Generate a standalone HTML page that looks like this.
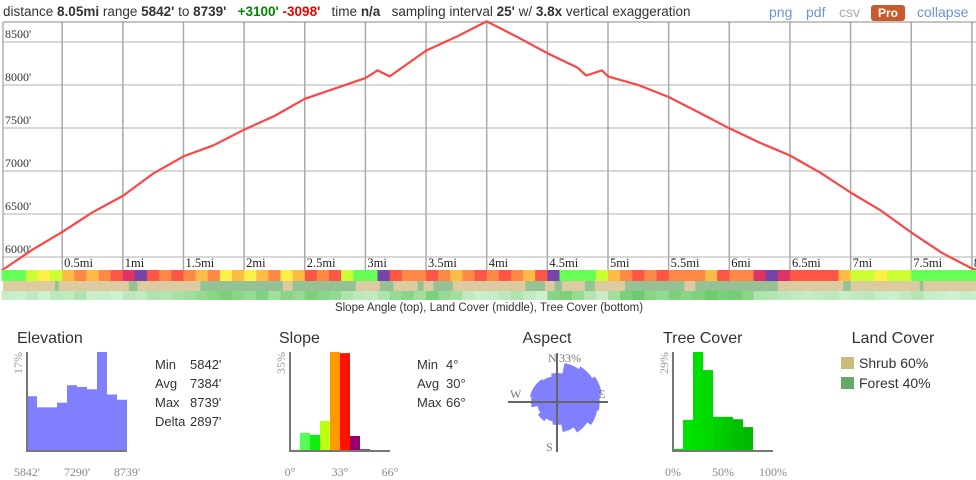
<!DOCTYPE html>
<html><head><meta charset="utf-8">
<style>
body{margin:0;width:976px;height:480px;background:#fff;overflow:hidden;font-family:"Liberation Sans",sans-serif;color:#333}
#hdr{position:absolute;left:3px;top:4px;font-size:13.5px;white-space:nowrap}
#hdr b{font-weight:bold}
.lnk{position:absolute;top:4px;font-size:14px;color:#6b93d6}
</style></head><body>
<div id="hdr">distance <b>8.05mi</b> range <b>5842'</b> to <b>8739'</b> &nbsp;&nbsp;<b style="color:#080">+3100'</b> <b style="color:#e00">-3098'</b> &nbsp;&nbsp;time <b>n/a</b> &nbsp;&nbsp;sampling interval <b>25'</b> w/ <b>3.8x</b> vertical exaggeration</div>
<span class="lnk" style="left:769px">png</span>
<span class="lnk" style="left:806px">pdf</span>
<span class="lnk" style="left:839px;color:#aaa">csv</span>
<span style="position:absolute;left:871px;top:5px;width:34px;height:16px;background:#c95a2e;border-radius:3px;color:#fff;font-size:12px;font-weight:bold;text-align:center;line-height:16px">Pro</span>
<span class="lnk" style="left:917px">collapse</span>
<svg id="svg" width="976" height="480" style="position:absolute;left:0;top:0"></svg>
<script>
// Profile data (miles, feet)
const distMi=[0,0.25,0.5,0.75,1,1.25,1.5,1.75,2,2.25,2.5,2.75,3,3.1,3.2,3.5,3.75,4,4.25,4.5,4.75,4.82,4.95,5,5.25,5.5,5.75,6,6.25,6.5,6.75,7,7.25,7.5,7.75,8,8.05];
const elevFt=[5842,6080,6290,6520,6710,6970,7170,7300,7480,7640,7840,7960,8080,8170,8100,8400,8560,8739,8560,8370,8200,8110,8170,8100,8000,7860,7680,7497,7330,7180,6980,6750,6540,6285,6050,5866,5844];
const yTicks=[6000,6500,7000,7500,8000,8500];
const xTicks=[0.5,1,1.5,2,2.5,3,3.5,4,4.5,5,5.5,6,6.5,7,7.5,8];
// slope per 0.1mi
const slopeDeg=[18,14,22,26,20,30,34,28,32,37,44,48,38,33,36,31,29,34,27,30,26,28,31,25,29,36,33,38,22,18,16,50,37,34,31,36,32,30,34,37,33,36,31,29,35,50,14,16,12,24,30,33,35,32,36,31,33,34,30,37,33,34,40,46,42,38,35,37,39,30,24,22,26,20,24,18,16,12,14,10,12];
const forestStart=[0.44,1.05,1.64,2.4,3.12,3.43,3.56,4.32,4.56,4.81,5.14,5.72,6.94,7.57];
const forestEnd=[0.47,1.12,2.32,2.92,3.23,3.48,3.72,4.48,4.62,4.89,5.63,6.4,7.0,7.6];
const treeCover=[10,8,12,6,15,12,20,8,10,6,14,12,20,18,22,25,30,35,40,35,30,38,25,35,30,40,35,30,20,15,12,20,30,35,25,40,30,25,12,8,10,14,20,12,8,35,40,30,18,10,25,40,45,35,30,40,35,38,45,40,42,35,20,18,15,12,10,12,14,10,12,15,10,8,12,18,10,8,6,10,8];
// Histograms
const elevHist=[9.4,7.5,7.5,8.3,11.3,11.0,10.6,17,9.7,8.8];
const slopeHist=[0.5,6.4,5.7,10.6,35,34.6,5.3,0.6,0.3,0];
const treeHist=[0.6,9.1,29,23.7,10,10,9.3,7,0,0];
const aspectPct=[19,26,28,30,28,27,24,20,15,13,15,13,17,18,18,17];

const NS='http://www.w3.org/2000/svg';const svg=document.getElementById('svg');
function mk(t,a,p){const e=document.createElementNS(NS,t);for(const k in a)e.setAttribute(k,a[k]);(p||svg).appendChild(e);return e;}
const X=d=>1.5+d*121.3;
const Y=f=>42+(8500-f)*43/500;
for(const t of yTicks){const l=mk('line',{x1:3,x2:976,y1:Y(t),y2:Y(t),stroke:'#ccc','stroke-width':1.5});

const tx=mk('text',{x:5,y:Y(t)-4,'font-size':12,'font-family':'Liberation Serif,serif',fill:'#333'});tx.textContent=t+"'";
}
for(const t of xTicks){const l=mk('line',{x1:X(t),x2:X(t),y1:22,y2:270,stroke:'#aaa','stroke-width':1.5});

const tx=mk('text',{x:X(t)+2,y:267,'font-size':12.5,'font-family':'Liberation Serif,serif',fill:'#222'});tx.textContent=t+'mi';
}
const tb=mk('line',{x1:3,x2:976,y1:22,y2:22,stroke:'#888'});
const lb=mk('line',{x1:3,x2:3,y1:22,y2:270,stroke:'#888'});
let pd='';distMi.forEach((d,i)=>{pd+=(i?'L':'M')+X(d).toFixed(1)+','+Y(elevFt[i]).toFixed(1);});
const pl=mk('path',{d:pd,fill:'none',stroke:'#f44','stroke-width':2.2,'stroke-linejoin':'round'});

function sc(s){return s<10?'#b8ffb0':s<20?'#66ff55':s<25?'#ccff33':s<28?'#ffee44':s<31?'#ffbb44':s<35?'#ff8844':s<40?'#ff5544':s<45?'#dd3366':'#7744aa';}
const step=0.1;
slopeDeg.forEach((s,i)=>{const r=mk('rect',{x:X(i*step),y:270,width:X(step)-X(0)+0.5,height:11,fill:sc(s)});
});
const lbg=mk('rect',{x:3,y:281,width:973,height:10,fill:'#dccba0'});
forestStart.forEach((s,i)=>{const r=mk('rect',{x:X(s),y:281,width:X(forestEnd[i])-X(s),height:10,fill:'#94c294'});
});
treeCover.forEach((v,i)=>{const r=mk('rect',{x:X(i*step),y:291,width:X(step)-X(0)+0.5,height:9,fill:'rgb('+Math.round(225-v*2.6)+','+Math.round(245-v*0.9)+','+Math.round(225-v*2.6)+')'});
});
const cap=mk('text',{x:489,y:311,'font-size':11.5,'text-anchor':'middle',fill:'#333'});cap.textContent='Slope Angle (top), Land Cover (middle), Tree Cover (bottom)';

function txt(x,y,s,o){const t=mk('text',Object.assign({x:x,y:y,'font-size':13,fill:'#333'},o||{}));t.textContent=s;return t;}
function hist(x0,vals,maxv,colors,name,ylab,xl){
 const base=451,h=99;
 vals.forEach((v,i)=>{if(!v)return;const bh=v/maxv*h;const r=mk('rect',{x:x0+i*10,y:base-bh,width:10,height:bh,fill:colors[i]});
 });
 const a=mk('path',{d:`M${x0},352V${base}H${x0+100}`,fill:'none',stroke:'#777','stroke-width':2});
 
 const yl=mk('text',{x:0,y:0,'font-size':12,fill:'#999','font-family':'Liberation Serif,serif','text-anchor':'end',transform:`translate(${x0-5},352) rotate(-90)`});yl.textContent=ylab;
 
 xl.forEach((s,i)=>{const t=txt(x0+i*50,476,s,{'font-size':12,fill:'#888','font-family':'Liberation Serif,serif','text-anchor':'middle'});
 });
}
const titles=[[17,'Elevation','start'],[279,'Slope','start'],[547,'Aspect','middle'],[663,'Tree Cover','start'],[893,'Land Cover','middle']];
titles.forEach(t=>{const e=txt(t[0],343,t[1],{'font-size':16,'text-anchor':t[2]});});
hist(27,elevHist,17,Array(10).fill('#8080ff'),'elevation-hist','17%',["5842'","7290'","8739'"]);
hist(290,slopeHist,35,['#b8ffb0','#55ff55','#11ee11','#bbff11','#ff9900','#ff1100','#990066','#3300aa','#333333','#000'],'slope-hist','35%',['0°','33°','66°']);
hist(673,treeHist,29,['#00dd00','#00e400','#00e000','#00d800','#00d000','#00c800','#00c000','#00b800','#0a0','#0a0'],'tree-cover-hist','29%',['0%','50%','100%']);
[['Min',"5842'"],['Avg',"7384'"],['Max',"8739'"],['Delta',"2897'"]].forEach((r,i)=>{const a=txt(155,369+i*19,r[0]);const b=txt(190,369+i*19,r[1]);});
[['Min','4°'],['Avg','30°'],['Max','66°']].forEach((r,i)=>{const a=txt(417,369+i*19,r[0]);const b=txt(446,369+i*19,r[1]);});
const cx=557,cy=402,R=50/33;
aspectPct.forEach((v,i)=>{const a0=(i*22.5-11.25-90)*Math.PI/180,a1=(i*22.5+11.25-90)*Math.PI/180,r=v*R;
const p=mk('path',{d:`M${cx},${cy}L${cx+r*Math.cos(a0)},${cy+r*Math.sin(a0)}A${r},${r} 0 0 1 ${cx+r*Math.cos(a1)},${cy+r*Math.sin(a1)}Z`,fill:'#8080ff',stroke:'#8080ff','stroke-width':0.5});
});
const ax=mk('path',{d:`M508,${cy}H608M${cx},353V452`,stroke:'#666','stroke-width':2,fill:'none'});
[[548,362,'N'],[559,362,'33%'],[510,398,'W'],[598,398,'E'],[546,451,'S']].forEach(l=>{const t=txt(l[0],l[1],l[2],{'font-size':12,fill:'#777','font-family':'Liberation Serif,serif'});});
[['#cdb97b','Shrub',' 60%',357],['#6aa86a','Forest','40%',377]].forEach(l=>{const r=mk('rect',{x:841,y:l[3],width:13,height:12,fill:l[0]});
const t=txt(859,l[3]+11,l[1]+' '+l[2],{'font-size':14});});
</script>
</body></html>
